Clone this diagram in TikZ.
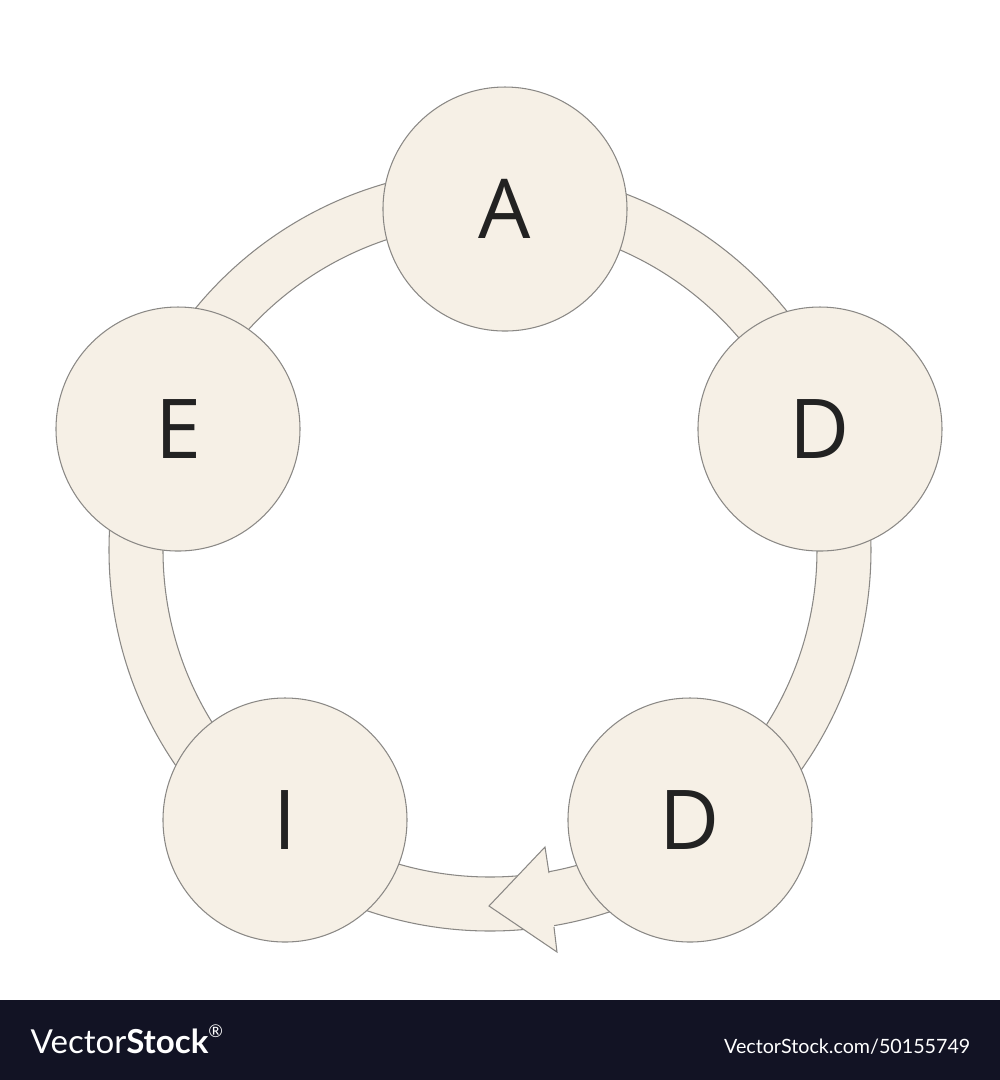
\documentclass[tikz,border=0pt]{standalone}
\usepackage{fontspec}
\setmainfont{Open Sans}
\newfontfamily\markfont{Lato}
\definecolor{cream}{HTML}{F6F0E6}
\definecolor{rim}{HTML}{8A8885}
\definecolor{letter}{HTML}{222222}
\definecolor{barcol}{HTML}{121324}
\begin{document}
\begin{tikzpicture}[x=0.1mm, y=-0.1mm,
  stage/.style={circle, minimum size=24.4mm, inner sep=0pt, fill=cream, draw=rim, line width=0.3pt,
    text=letter, font=\fontsize{23.5}{28}\selectfont},
  edge/.style={draw=rim, line width=0.3pt}]
\useasboundingbox (0,0) rectangle (1000,1080);
% ring behind the stages
\coordinate (o) at (490,550);
\filldraw[fill=cream, edge, even odd rule] (o) circle (38.1mm) (o) circle (32.7mm);
% arrow head on the ring, pointing from D to I
\coordinate (tip) at (489,906);
\coordinate (ub) at (545,847);
\coordinate (un) at (549,873);
\coordinate (ln) at (554,927);
\coordinate (lb) at (557,952);
\fill[cream] (tip) -- (ub) -- (un) -- (ln) -- (lb) -- cycle;
\draw[edge, line join=miter] (un) -- (ub) -- (tip) -- (lb) -- (ln);
% the five stages
\node[stage] (a) at (505,209) {A};
\node[stage] (d1) at (820,429) {D};
\node[stage] (d2) at (690,820) {D};
\node[stage] (i) at (285,820) {I};
\node[stage] (e) at (178,429) {E};
% bottom bar
\fill[barcol] (0,1000) rectangle (1000,1080);
\node[anchor=base west, inner sep=0pt, text=white, font=\markfont\fontsize{9.4}{12}\selectfont] (logo) at (30,1053)
  {Vector\textbf{Stock}\raisebox{0.9ex}{\fontsize{5}{6}\selectfont\textregistered}};
\node[anchor=base east, inner sep=0pt, text=white, font=\markfont\fontsize{5.6}{7}\selectfont] (ref) at (971,1053)
  {VectorStock.com/50155749};
\end{tikzpicture}
\end{document}
